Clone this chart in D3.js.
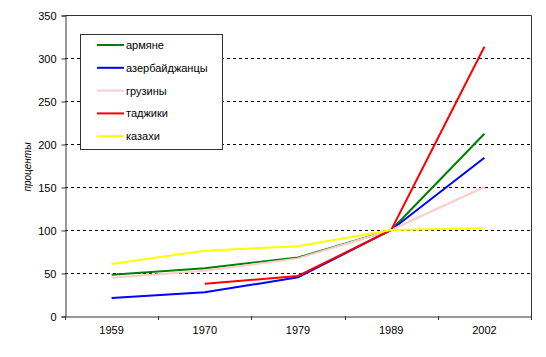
<!DOCTYPE html>
<html><head><meta charset="utf-8">
<script src="https://cdn.jsdelivr.net/npm/d3@7"></script>
<style>body{margin:0;background:#fff}svg{display:block}text{font-family:"Liberation Sans",Arial,sans-serif}</style>
</head><body><svg id="c" width="546" height="357"></svg>
<script>
const years = ["1959","1970","1979","1989","2002"];
const seriesNames = ["армяне","азербайджанцы","грузины","таджики","казахи"];
const seriesColors = ["#008000","#0000ff","#ffcccc","#ff0000","#ffff00"];
const armenians = [48,55.5,68,100,212];
const azerbaijanis = [21,27.5,45,100,184];
const georgians = [44.5,52.5,67,100,150];
const tajiks = [null,37.5,46.5,100,313];
const kazakhs = [60.5,76,81,100,102];
const yTicks = [0,50,100,150,200,250,300,350];
const seriesValues = [armenians,azerbaijanis,georgians,tajiks,kazakhs];

const svg = d3.select("#c");
const L=65,R=531,T=15,B=316;
const x = d3.scaleBand().domain(years).range([L,R]);
const y = d3.scaleLinear().domain([0,350]).range([B,T]);

// gridlines
svg.append("g").selectAll("line").data(yTicks.filter(v=>v>0&&v<350)).join("line")
  .attr("x1",L).attr("x2",R).attr("y1",d=>y(d)+0.5).attr("y2",d=>y(d)+0.5)
  .attr("stroke","#000").attr("stroke-dasharray","3,3");

// border top/right
svg.append("path").attr("d",`M${L},${T+0.5}H${R+0.5}V${B}`).attr("fill","none").attr("stroke","#333");

// y axis
const ya = svg.append("g").attr("transform",`translate(${L+0.5},0.5)`)
  .call(d3.axisLeft(y).tickValues(yTicks).tickSize(4).tickPadding(5));
ya.select(".domain").attr("stroke","#333");
ya.selectAll(".tick line").attr("stroke","#333");
ya.selectAll("text").attr("font-size",11).attr("fill","#000").attr("font-family","'Liberation Sans',Arial,sans-serif");

// x axis
const xa = svg.append("g").attr("transform",`translate(0,${B+0.5})`)
  .call(d3.axisBottom(x).tickSize(0).tickPadding(10));
xa.select(".domain").attr("stroke","#333");
xa.selectAll("text").attr("font-size",11).attr("fill","#000").attr("font-family","'Liberation Sans',Arial,sans-serif");
const bounds = years.map(d=>x(d)).concat([R]);
svg.append("g").selectAll("line").data(bounds).join("line")
  .attr("x1",d=>Math.round(d)+0.5).attr("x2",d=>Math.round(d)+0.5).attr("y1",B).attr("y2",B+4).attr("stroke","#333");

// y title
svg.append("text").attr("transform","translate(31,167) rotate(-90)").attr("text-anchor","middle")
  .attr("font-size",10).attr("font-style","italic").text("проценты");

// lines
const line = d3.line().defined(d=>d.v!=null).x(d=>x(d.yr)+x.bandwidth()/2).y(d=>y(d.v));
seriesValues.forEach((vals,i)=>{
  svg.append("path").datum(vals.map((v,j)=>({yr:years[j],v})))
    .attr("d",line).attr("fill","none").attr("stroke",seriesColors[i]).attr("stroke-width",2);
});

// legend
const lg = svg.append("g");
lg.append("rect").attr("x",80.5).attr("y",34.5).attr("width",142).attr("height",115).attr("fill","#fff").attr("stroke","#333");
seriesNames.forEach((n,i)=>{
  const yy = 45 + i*22.8;
  lg.append("line").attr("x1",97).attr("x2",124).attr("y1",yy).attr("y2",yy).attr("stroke",seriesColors[i]).attr("stroke-width",2);
  lg.append("text").attr("x",126).attr("y",yy+4).attr("font-size",11).text(n);
});
</script></body></html>
